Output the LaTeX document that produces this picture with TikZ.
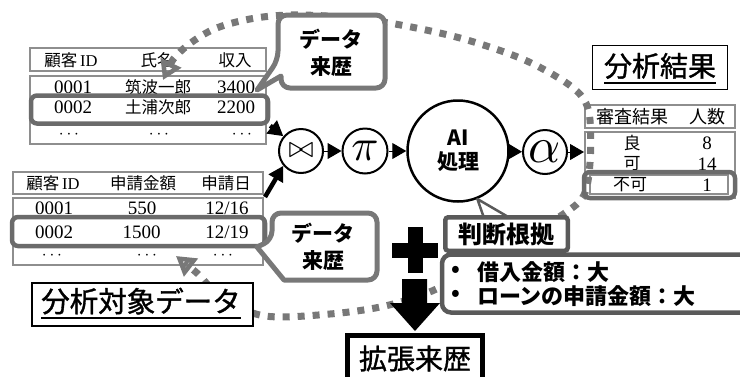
\documentclass[tikz,border=0pt]{standalone}
\usepackage{fontspec}
\usepackage{graphicx}
\usetikzlibrary{arrows.meta}
\newfontfamily\cjk{Noto Sans CJK JP}
\newfontfamily\cjkm[FakeBold=1.2]{Noto Sans CJK JP}
\newfontfamily\numf{Liberation Serif}
\newcommand\fsz[1]{\fontsize{#1}{#1}\selectfont}
\newcommand\ulx[1]{\setbox0\hbox{#1}\rlap{\rule[-7pt]{\wd0}{1.8pt}}\box0}
\definecolor{dotg}{HTML}{787878}
\definecolor{hlg}{HTML}{6B6B6B}
\definecolor{tblg}{HTML}{8E8E8E}
\definecolor{jdg}{HTML}{5A5A5A}
\begin{document}
\begin{tikzpicture}[x=1pt,y=-1pt,
 txt/.style={inner sep=0pt,outer sep=0pt},
 tj/.style={txt,font=\cjk\fsz{16.5}},
 tn/.style={txt,font=\numf\fsz{19}},
 frame/.style={draw=tblg,line width=1.1pt},
 hl/.style={draw=hlg,line width=4.5pt,rounded corners=6pt,inner sep=0pt},
 op/.style={draw,circle,line width=2pt,inner sep=0pt},
 tri/.style={line width=1pt,-{Triangle[length=14pt,width=16pt]}},
 blk/.style={line width=4.5pt,-{Triangle[length=15pt,width=16pt]}},
 loopln/.style={draw=dotg,line width=7pt,dash pattern=on 7pt off 8pt},
 looptip/.style={{Triangle[open,length=19pt,width=22pt,line width=4.5pt]}-{Triangle[open,length=19pt,width=22pt,line width=4.5pt]}},
 callout/.style={draw=dotg,line width=5pt,fill=white,line join=round},
 ctext/.style={txt,align=center,font=\cjk\bfseries\fontsize{21}{27}\selectfont},
 lab/.style={draw,line width=1.2pt,fill=white,inner sep=0pt},
 jbox/.style={draw=jdg,line width=4.5pt,fill=white,inner sep=0pt},
 bul/.style={txt,font=\cjk\bfseries\fsz{22}}
]
\useasboundingbox (0,0) rectangle (740,376);
% ---- table 1
\draw[frame] (30,48) rectangle (266,71);
\draw[frame] (30,76) rectangle (266,144);
\node[tj] (h11) at (71,60) {顧客\,{\numf ID}};
\node[tj] (h12) at (157,60) {氏名};
\node[tj] (h13) at (235,60) {収入};
\node[tn] (c11) at (73,87) {0001};
\node[tj] (c12) at (158,87) {筑波一郎};
\node[tn] (c13) at (236,87) {3400};
\node[tn] (c21) at (73,107) {0002};
\node[tj] (c22) at (158,107) {土浦次郎};
\node[tn] (c23) at (236,107) {2200};
\node[tn] (c31) at (69,135) {$\cdots$};
\node[tn] (c32) at (159,135) {$\cdots$};
\node[tn] (c33) at (242,135) {$\cdots$};
\node[hl,minimum width=237pt,minimum height=28pt] (hl1) at (149.5,109.5) {};
% ---- table 2
\draw[frame] (13,172) rectangle (263,194);
\draw[frame] (13,198) rectangle (263,265);
\node[tj] (g11) at (53,183) {顧客\,{\numf ID}};
\node[tj] (g12) at (143,183) {申請金額};
\node[tj] (g13) at (226,183) {申請日};
\node[tn] (d11) at (54,208) {0001};
\node[tn] (d12) at (142,208) {550};
\node[tn] (d13) at (227,208) {12/16};
\node[tn] (d21) at (54,232) {0002};
\node[tn] (d22) at (141.5,232) {1500};
\node[tn] (d23) at (227,232) {12/19};
\node[tn] (d31) at (52,256) {$\cdots$};
\node[tn] (d32) at (147,256) {$\cdots$};
\node[tn] (d33) at (223,256) {$\cdots$};
\node[hl,minimum width=253pt,minimum height=29pt] (hl2) at (138.5,231.5) {};
% ---- result table
\draw[frame] (585,105) rectangle (735,128);
\draw[frame] (585,132) rectangle (735,198);
\draw[frame] (590,175) rectangle (728,194);
\node[tj,font=\cjk\fsz{18}] (e11) at (632,117) {審査結果};
\node[tj,font=\cjk\fsz{18}] (e12) at (707,117) {人数};
\node[tj,font=\cjk\fsz{17}] (e21) at (632,143) {良};
\node[tn] (e22) at (707,143) {8};
\node[tj,font=\cjk\fsz{17}] (e31) at (632,164) {可};
\node[tn] (e32) at (707,164) {14};
\node[tj,font=\cjk\fsz{17}] (e41) at (630,185) {不可};
\node[tn] (e42) at (707,185) {1};
% ---- dotted loop
\coordinate (lpA) at (163,80);
\coordinate (lpB) at (176,256);
\draw[loopln,looptip]
  plot[smooth,tension=0.55] coordinates {(lpA) (180,52) (212,30) (250,19) (290,15) (340,17) (395,24) (460,38) (520,58) (562,80) (583,98) (590,120) (590,163) (584,195) (565,213) (520,240) (470,270) (432,291) (385,306) (330,314) (265,316) (222,298) (198,274) (lpB)};
\node[hl,minimum width=151pt,minimum height=26pt] (hl3) at (659.5,185) {};
% ---- operators
\node[op,minimum size=44pt] (join) at (301,151) {\scalebox{3}{$\bowtie$}};
\node[op,minimum size=45pt] (proj) at (365,151) {\scalebox{4.5}{$\pi$}};
\node[op,minimum size=101pt,line width=2.5pt,align=center,font=\cjk\bfseries\fontsize{21}{24}\selectfont] (ai) at (458,151) {AI\\処理};
\node[op,minimum size=44pt] (alpha) at (545,152) {\scalebox{5}{$\alpha$}};
\coordinate (resin) at (584,152);
\draw[tri] (join) -- (proj);
\draw[tri] (proj) -- (ai);
\draw[tri] (ai) -- (alpha);
\draw[tri] (alpha) -- (resin);
\coordinate (t2c) at (265,197);
\draw[blk] (hl1.south east) -- (join.140);
\draw[blk] (t2c) -- (join.220);
% ---- callouts
\draw[callout] (257,90) -- (281,76) [rounded corners=9pt] -- (281,88) -- (385,88) -- (385,15) -- (278,15) -- (278,60) [sharp corners] -- cycle;
\node[ctext] (prov1) at (331,53) {データ\\来歴};
\draw[callout] (257,247) -- (284,280) [rounded corners=9pt] -- (377,280) -- (377,213) -- (272,213) -- (272,240) [sharp corners] -- cycle;
\node[ctext] (prov2) at (323,247) {データ\\来歴};
% ---- labels
\node[lab,minimum width=221pt,minimum height=43pt] (tgtbox) at (142.5,304.5) {};
\node[txt,anchor=base,font=\cjkm\fsz{28.5}] (tgt) at (141,312) {\ulx{分析対象データ}};
\node[lab,minimum width=135pt,minimum height=44pt] (resbox) at (660,67.5) {};
\node[txt,anchor=base,font=\cjkm\fsz{28}] (res) at (660,76.5) {\ulx{分析結果}};
% ---- reasons
\draw[draw=jdg,line width=2.5pt,fill=white,line join=round] (484,218) -- (ai.-68) -- (510,218);
\node[jbox,rounded corners=9pt,minimum width=310pt,minimum height=58pt] (why) at (597,283.5) {};
\node[bul] (d1) at (456,271) {•};
\node[bul,anchor=west] (r1) at (477,272) {借入金額：大};
\node[bul] (d2) at (456,295) {•};
\node[bul,anchor=west] (r2) at (477,296) {ローンの申請金額：大};
\node[jbox,rounded corners=3pt,minimum width=122.5pt,minimum height=33.5pt,font=\cjk\bfseries\fsz{24}] (reason) at (506.5,234) {判断根拠};
% ---- plus, arrow, extended provenance
\fill (408,227) rectangle (423,273);
\fill (392,243) rectangle (438,258);
\fill (402,279) -- (427,279) -- (427,303) -- (440,303) -- (415,331) -- (390,303) -- (402,303) -- cycle;
\node[draw,line width=5pt,fill=white,inner sep=0pt,minimum width=135pt,minimum height=46pt,font=\cjkm\fsz{28}] (ext) at (415,358.5) {拡張来歴};
\end{tikzpicture}
\end{document}
